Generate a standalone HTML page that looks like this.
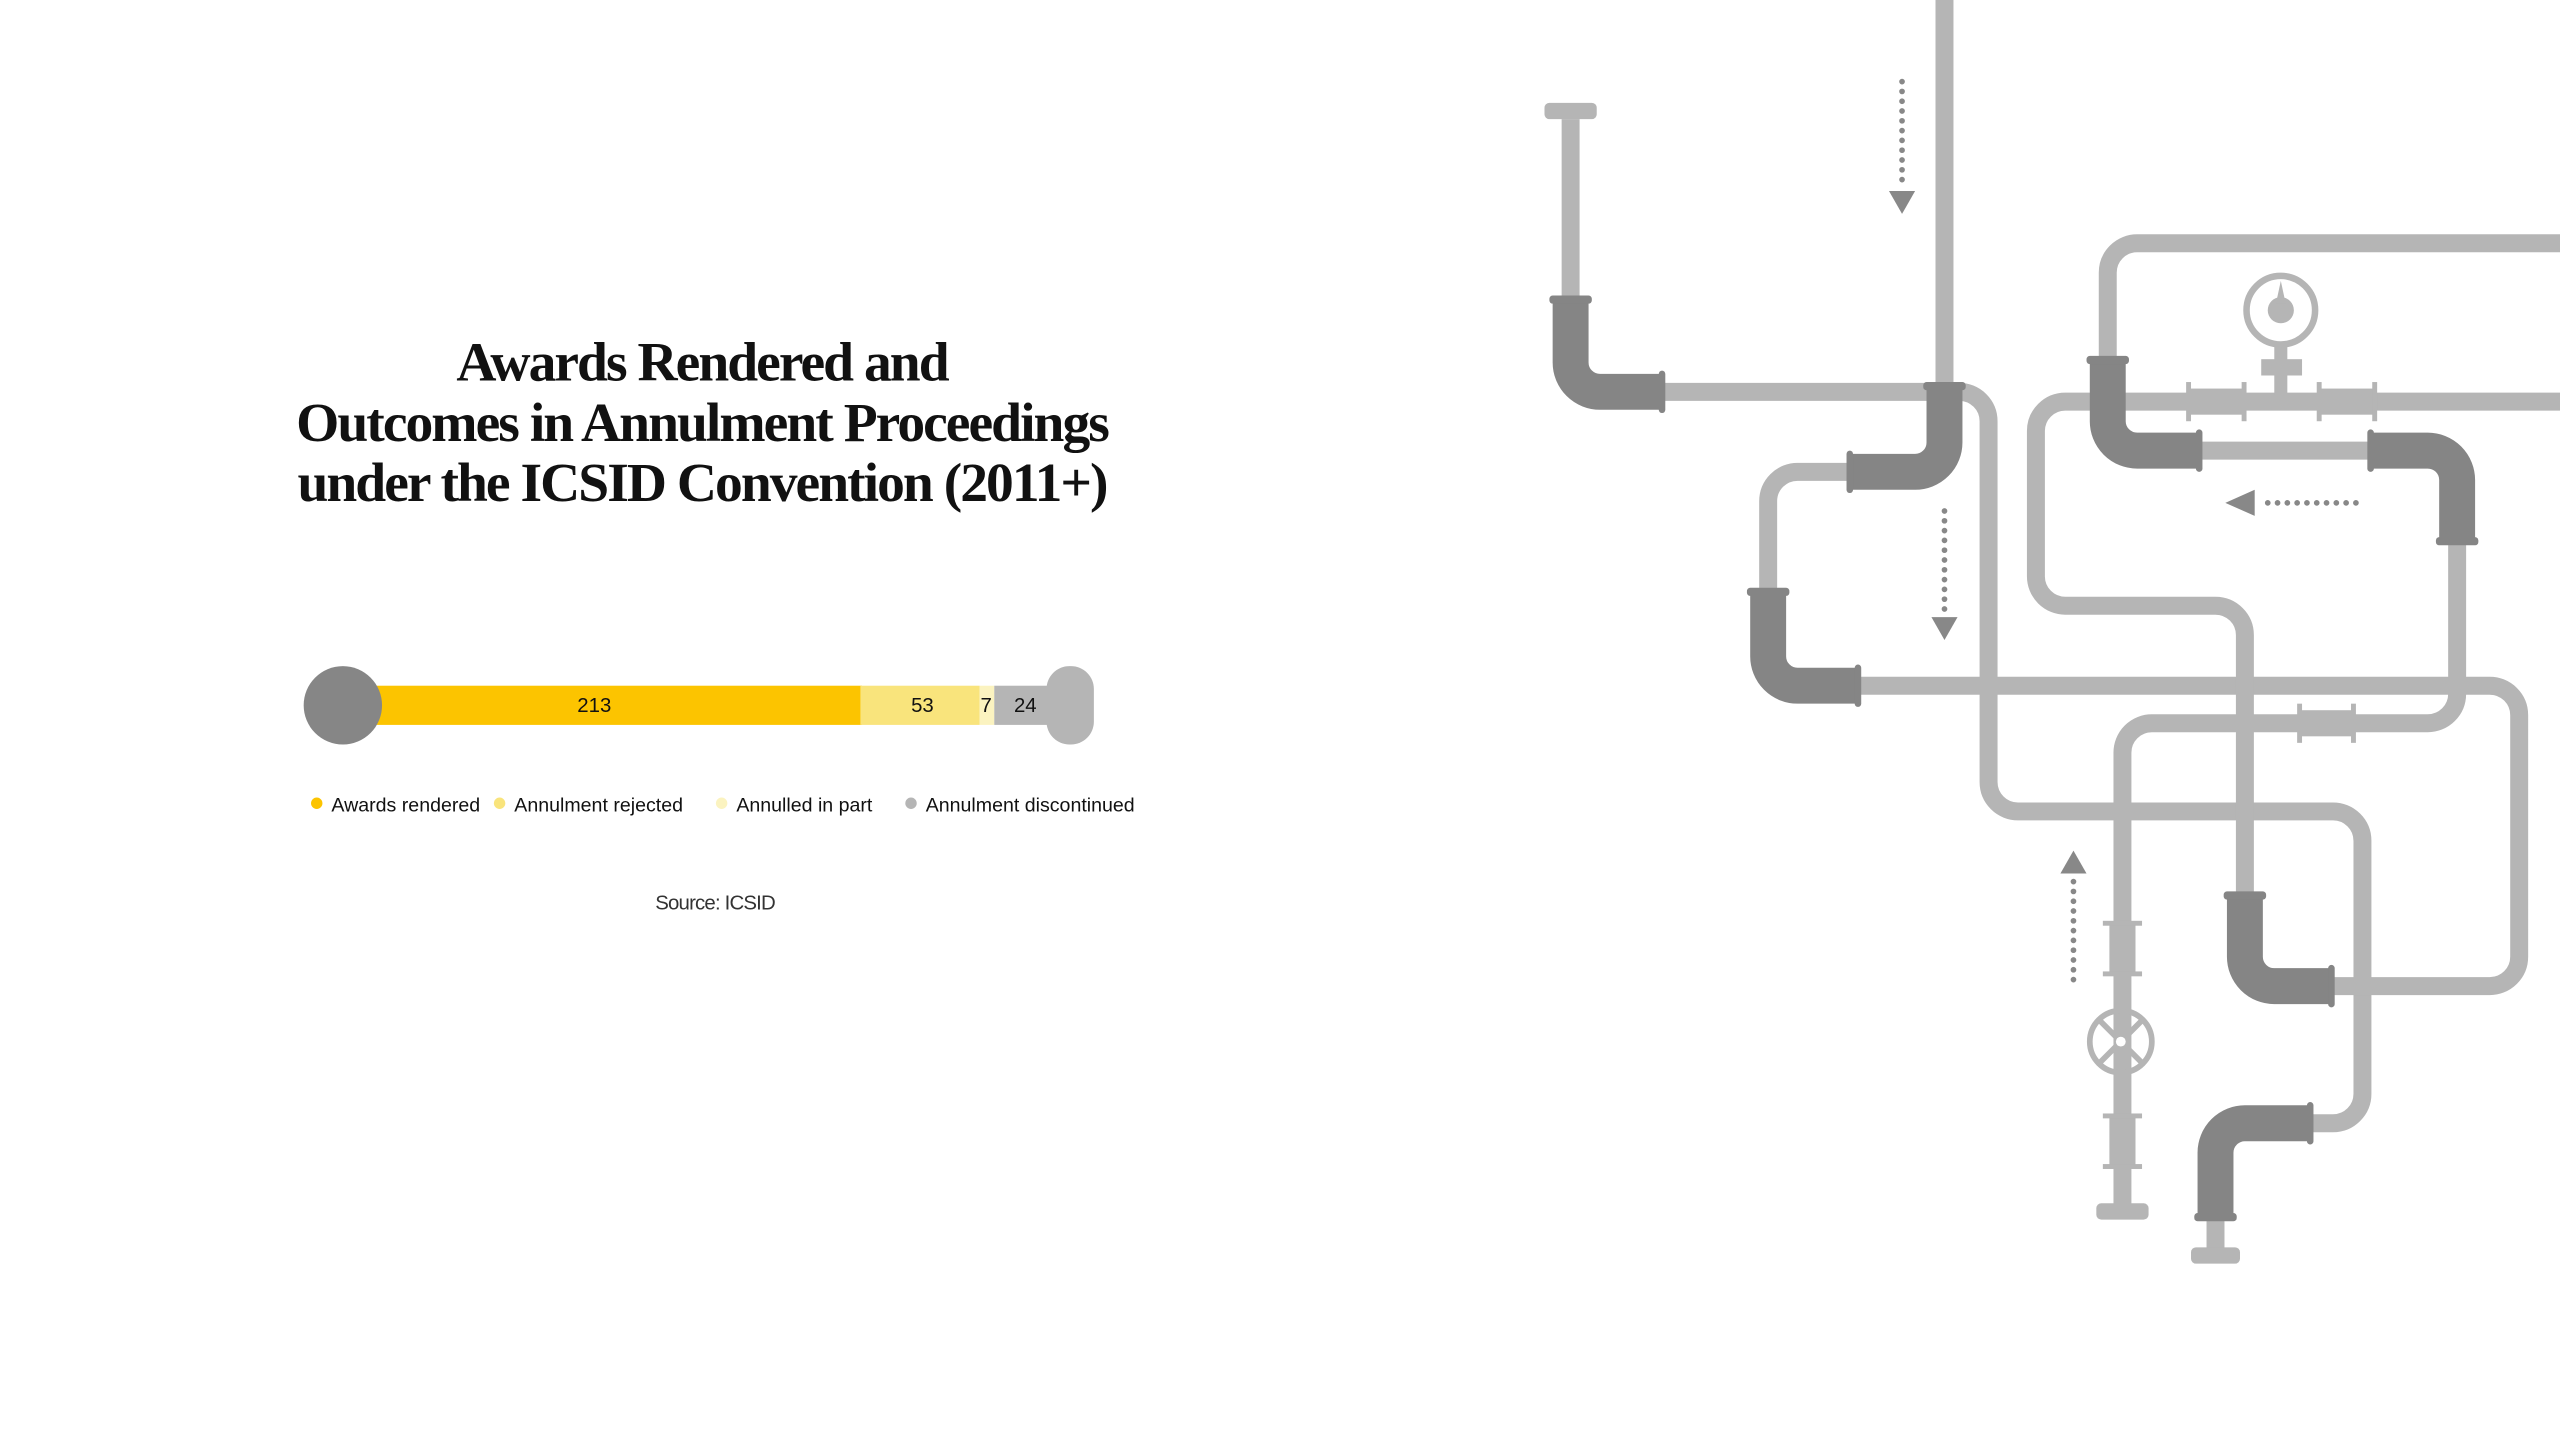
<!DOCTYPE html>
<html><head><meta charset="utf-8">
<style>
html,body{margin:0;padding:0;background:#fff;overflow:hidden}
#w{width:1568px;height:882px;transform:scale(1.63265);transform-origin:0 0;position:relative}
.t{position:absolute;left:130px;width:600px;text-align:center;font-family:"Liberation Serif",serif;font-weight:bold;font-size:34px;letter-spacing:-1.2px;color:#111;line-height:37px;top:204px}
.n{font-family:"Liberation Sans",sans-serif;font-size:12.5px;fill:#111}
.l{font-family:"Liberation Sans",sans-serif;font-size:12px;fill:#111}
</style></head><body><div id="w">
<div class="t">Awards Rendered and<br>Outcomes in Annulment Proceedings<br>under the ICSID Convention (2011+)</div>
<svg width="1568" height="882" viewBox="0 0 1568 882" style="position:absolute;left:0;top:0">
<rect x="205" y="420" width="323" height="24" fill="#fcc400"/>
<rect x="527" y="420" width="73" height="24" fill="#f9e47c"/>
<rect x="600" y="420" width="9" height="24" fill="#fbf3c0"/>
<rect x="609" y="420" width="38" height="24" fill="#b5b5b5"/>
<rect x="641" y="408" width="29" height="48" rx="14" fill="#b5b5b5"/>
<ellipse cx="210" cy="432" rx="24" ry="24" fill="#868686"/>
<text class="n" x="364" y="436" text-anchor="middle">213</text>
<text class="n" x="565" y="436" text-anchor="middle">53</text>
<text class="n" x="604" y="436" text-anchor="middle">7</text>
<text class="n" x="628" y="436" text-anchor="middle">24</text>
<circle cx="194" cy="492" r="3.5" fill="#fcc400"/><text class="l" x="203" y="497">Awards rendered</text>
<circle cx="306" cy="492" r="3.5" fill="#f9e47c"/><text class="l" x="315" y="497">Annulment rejected</text>
<circle cx="442" cy="492" r="3.5" fill="#fbf3c0"/><text class="l" x="451" y="497">Annulled in part</text>
<circle cx="558" cy="492" r="3.5" fill="#b5b5b5"/><text class="l" x="567" y="497">Annulment discontinued</text>
<text x="438" y="557" text-anchor="middle" style="font-family:'Liberation Sans',sans-serif;font-size:12.5px;fill:#333;letter-spacing:-0.5px">Source: ICSID</text>

<g fill="none" stroke="#b5b5b5" stroke-width="11">
<path d="M962,73 V183"/>
<path d="M1018,240 H1200 A18 18 0 0 1 1218,258 V479 A18 18 0 0 0 1236,497 H1429 A18 18 0 0 1 1447,515 V670 A18 18 0 0 1 1429,688 H1415"/>
<path d="M1191,0 V236"/>
<path d="M1133,289 H1101 A18 18 0 0 0 1083,307 V362"/>
<path d="M1138,420 H1525 A18 18 0 0 1 1543,438 V586 A18 18 0 0 1 1525,604 H1428"/>
<path d="M1375,549 V389 A18 18 0 0 0 1357,371 H1265 A18 18 0 0 1 1247,353 V264 A18 18 0 0 1 1265,246 H1568"/>
<path d="M1568,149 H1309 A18 18 0 0 0 1291,167 V220"/>
<path d="M1347,276 H1452"/>
<path d="M1505,331 V425 A18 18 0 0 1 1487,443 H1318 A18 18 0 0 0 1300,461 V740"/>
<path d="M1357,745 V766"/>
</g>
<g fill="#b5b5b5">
<rect x="946" y="63" width="32" height="10" rx="3"/>
<rect x="1342" y="764" width="30" height="10" rx="3"/>
<rect x="1284" y="737" width="32" height="10" rx="3"/>
<rect x="1340" y="238" width="35" height="16"/><rect x="1339" y="234" width="3" height="24"/><rect x="1373" y="234" width="3" height="24"/>
<rect x="1420" y="238" width="35" height="16"/><rect x="1419" y="234" width="3" height="24"/><rect x="1453" y="234" width="3" height="24"/>
<rect x="1408" y="435" width="34" height="16"/><rect x="1407" y="431" width="3" height="24"/><rect x="1440" y="431" width="3" height="24"/>
<rect x="1292" y="565" width="16" height="32"/><rect x="1288" y="564" width="24" height="3"/><rect x="1288" y="595" width="24" height="3"/>
<rect x="1292" y="683" width="16" height="32"/><rect x="1288" y="682" width="24" height="3"/><rect x="1288" y="713" width="24" height="3"/>
<rect x="1393" y="210" width="8" height="32"/><rect x="1385" y="220" width="25" height="10"/>
<circle cx="1397" cy="190" r="8"/><path d="M1394,186 L1397,172 L1400,186 Z"/>
</g>
<circle cx="1397" cy="190" r="21" fill="none" stroke="#b5b5b5" stroke-width="4"/>
<g stroke="#b5b5b5" stroke-width="3.5" fill="none">
<circle cx="1299" cy="638" r="19"/>
<path d="M1286,625 L1312,651 M1312,625 L1286,651"/>
</g>
<circle cx="1299" cy="638" r="3" fill="#fff"/>

<g fill="none" stroke="#858585" stroke-width="22">
<path d="M962,183 V222 A18 18 0 0 0 980,240 H1018"/>
<path d="M1191,236 V271 A18 18 0 0 1 1173,289 H1133"/>
<path d="M1083,362 V402 A18 18 0 0 0 1101,420 H1138"/>
<path d="M1428,604 H1393 A18 18 0 0 1 1375,586 V549"/>
<path d="M1291,220 V258 A18 18 0 0 0 1309,276 H1347"/>
<path d="M1452,276 H1487 A18 18 0 0 1 1505,294 V331"/>
<path d="M1415,688 H1375 A18 18 0 0 0 1357,706 V745"/>
</g>
<g fill="#858585">
<rect x="949" y="181" width="26" height="5" rx="2"/>
<rect x="1016" y="227" width="4" height="26" rx="2"/>
<rect x="1178" y="234" width="26" height="5" rx="2"/>
<rect x="1131" y="276" width="4" height="26" rx="2"/>
<rect x="1070" y="360" width="26" height="5" rx="2"/>
<rect x="1136" y="407" width="4" height="26" rx="2"/>
<rect x="1426" y="591" width="4" height="26" rx="2"/>
<rect x="1362" y="546" width="26" height="5" rx="2"/>
<rect x="1278" y="218" width="26" height="5" rx="2"/>
<rect x="1345" y="263" width="4" height="26" rx="2"/>
<rect x="1450" y="263" width="4" height="26" rx="2"/>
<rect x="1492" y="329" width="26" height="5" rx="2"/>
<rect x="1413" y="675" width="4" height="26" rx="2"/>
<rect x="1344" y="743" width="26" height="5" rx="2"/>
</g>

<g stroke="#888" stroke-width="3.5" stroke-linecap="round" stroke-dasharray="0 6" fill="none">
<path d="M1165,50 V114"/>
<path d="M1191,313 V376"/>
<path d="M1443,308 H1384"/>
<path d="M1270,600 V538"/>
</g>
<g fill="#888">
<path d="M1157,117 H1173 L1165,131 Z"/>
<path d="M1183,378 H1199 L1191,392 Z"/>
<path d="M1381,300 V316 L1363,308 Z"/>
<path d="M1262,535 H1278 L1270,521 Z"/>
</g>
</svg>
</div></body></html>
